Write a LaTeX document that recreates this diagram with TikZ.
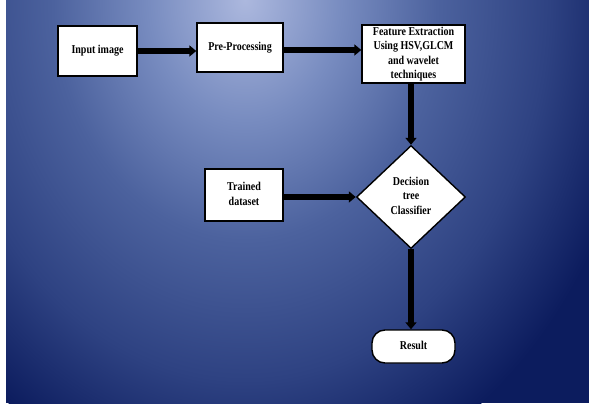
\documentclass[tikz,border=0pt]{standalone}
\usepackage{fontspec}
\usepackage{graphicx}
\setmainfont{Liberation Serif}
\usetikzlibrary{arrows.meta,shapes.geometric}
\definecolor{bgA}{RGB}{172,184,222}
\definecolor{bgB}{RGB}{120,140,192}
\definecolor{bgC}{RGB}{76,98,158}
\definecolor{bgD}{RGB}{46,66,130}
\definecolor{bgE}{RGB}{12,28,94}
\pgfdeclareradialshading{bgshade}{\pgfpoint{0bp}{0bp}}{color(0bp)=(bgA); color(6bp)=(bgB); color(12bp)=(bgC); color(19bp)=(bgD); color(25bp)=(bgE); color(50bp)=(bgE)}
\newcommand{\tx}[1]{\scalebox{1}[1.2]{\begin{tabular}{@{}c@{}}#1\end{tabular}}}
\begin{document}
\begin{tikzpicture}[x=1pt,y=-1pt,
  box/.style={draw=black, line width=1.4pt, fill=white, font=\bfseries\fontsize{10}{12}\selectfont, align=center, inner sep=0pt},
  flow/.style={line width=5.5pt, -{Triangle[width=11pt,length=7pt]}}]
  \fill[white] (0,0) rectangle (589,406);
  \useasboundingbox (0,0) rectangle (589,406);
  \begin{scope}
    \clip (6,0) rectangle (589,403);
    \fill[bgE] (6,0) rectangle (589,403);
    \shade[shading=bgshade] (245,0) ellipse [x radius=400pt, y radius=500pt];
  \end{scope}
  \node[box, minimum width=79pt, minimum height=50pt] (in) at (97.5,51) {\tx{Input image}};
  \node[box, minimum width=86pt, minimum height=49pt] (pre) at (240,47.5) {\tx{Pre-Processing}};
  \node[box, minimum width=103pt, minimum height=58pt] (fe) at (413.5,54) {\tx{Feature Extraction\\Using HSV,GLCM\\and wavelet\\techniques}};
  \node[box, diamond, minimum width=109pt, minimum height=103pt] (dt) at (411,197) {\tx{Decision\\tree\\Classifier}};
  \node[box, minimum width=78pt, minimum height=52pt] (tr) at (244,195) {\tx{Trained\\dataset}};
  \node[box, rounded corners=13pt, minimum width=83pt, minimum height=33pt] (res) at (413.5,346.5) {\tx{Result}};
  \draw[flow] (in.east) -- (in.east -| pre.west);
  \draw[flow] ([yshift=-2.5pt]pre.east) -- ([yshift=-2.5pt]pre.east -| fe.west);
  \draw[flow] (fe.south -| dt.north) -- (dt.north);
  \draw[flow] (tr.east |- dt.west) -- (dt.west);
  \draw[flow] (dt.south) -- (dt.south |- res.north);
\end{tikzpicture}
\end{document}
